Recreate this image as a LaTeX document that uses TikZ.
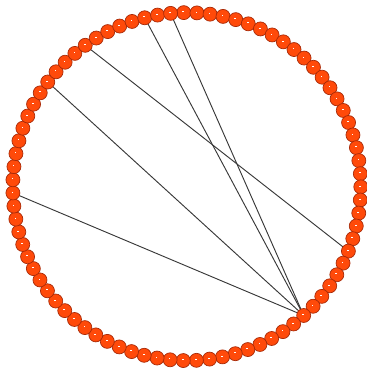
\documentclass[tikz,border=0pt]{standalone}
\usetikzlibrary{backgrounds, calc}
\definecolor{beadfill}{HTML}{FF4A0A}
\definecolor{beadrim}{HTML}{A82A08}
\definecolor{chordcolor}{HTML}{383838}

\begin{document}
\begin{tikzpicture}[
    bead/.style={
        circle, inner sep=0pt, minimum size=0.42cm,
        draw=beadrim, fill=beadfill, line width=0.6pt,
    },
    chord/.style={chordcolor, line width=0.8pt},
]
\useasboundingbox (0,0) rectangle (10.98,11.04);

% ============================================================ the ring of beads
% 83 beads, 360/83 = 4.3373 degrees apart
\begin{scope}[shift={(5.604,5.442)}]
\foreach \i in {0,...,82}{
    \node[bead] (b\i) at ({91-\i*4.3373}:5.22) {};
    \fill[white] ($(b\i.center)+(-0.04,0.01)$) rectangle +(0.05,0.03);
}
\end{scope}

% ============================================================ chords
\begin{scope}[on background layer]
\foreach \j in {62,71,80,82}{
    \draw[chord] (b32.center) -- (b\j.center);
}
\draw[chord] (b75.center) -- (b26.center);
\end{scope}

\end{tikzpicture}
\end{document}
